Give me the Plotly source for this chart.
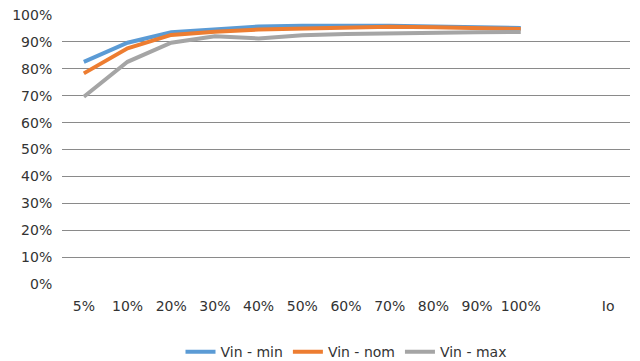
import plotly.graph_objects as go

categories = ["5%", "10%", "20%", "30%", "40%", "50%", "60%", "70%", "80%", "90%", "100%", " ", "Io"]
load_points = categories[:11]
vin_min = [0.826, 0.897, 0.936, 0.947, 0.957, 0.960, 0.961, 0.960, 0.957, 0.955, 0.952]
vin_nom = [0.783, 0.876, 0.926, 0.938, 0.946, 0.950, 0.953, 0.956, 0.954, 0.952, 0.948]
vin_max = [0.696, 0.826, 0.897, 0.921, 0.913, 0.925, 0.929, 0.932, 0.934, 0.936, 0.937]
y_ticks = [i / 10 for i in range(11)]

series = [("Vin - min", vin_min, "#5B9BD5"), ("Vin - nom", vin_nom, "#ED7D31"), ("Vin - max", vin_max, "#A5A5A5")]

fig = go.Figure()
for name, vals, color in series:
    fig.add_trace(go.Scatter(x=load_points, y=vals, mode="lines", name=name,
                             line=dict(color=color, width=4)))

font_family = "DejaVu Sans, Lato, sans-serif"
fig.update_layout(
    width=640, height=361,
    margin=dict(l=62, r=10, t=15, b=77, autoexpand=False),
    paper_bgcolor="white", plot_bgcolor="white",
    font=dict(family=font_family, size=14, color="#333333"),
    showlegend=True,
    legend=dict(orientation="h", x=0.5, xanchor="center", y=-0.253, yanchor="middle",
                font=dict(size=14, color="#333333"), tracegroupgap=0),
    xaxis=dict(type="category", categoryorder="array", categoryarray=categories,
               range=[-0.5, 12.5], showgrid=False, showline=False, zeroline=False,
               ticks="outside", ticklen=9, tickcolor="rgba(0,0,0,0)",
               tickfont=dict(size=14, color="#333333")),
    yaxis=dict(range=[0, 1], tickvals=y_ticks, tickformat=".0%", showgrid=True,
               gridcolor="#8a8a8a", gridwidth=1, zeroline=False, showline=False,
               ticks="outside", ticklen=6, tickcolor="rgba(0,0,0,0)",
               tickfont=dict(size=14, color="#333333")),
)

fig.write_html("out.html")
